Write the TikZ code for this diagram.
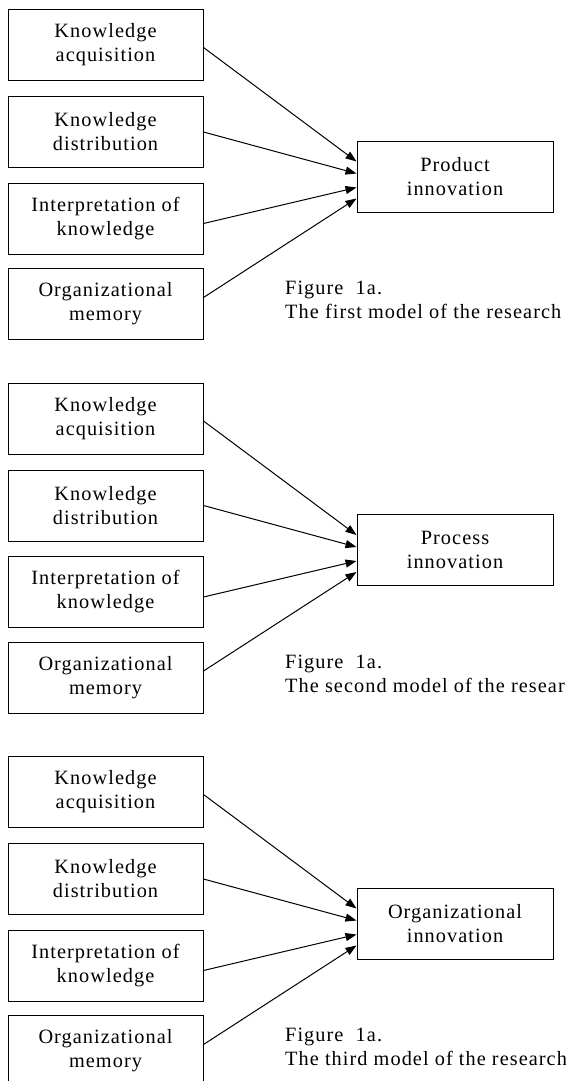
\documentclass[tikz,border=0pt]{standalone}
\usepackage{fontspec}
\setmainfont{Liberation Serif}[LetterSpace=5.2]
\usetikzlibrary{arrows.meta,calc}
\begin{document}
\begin{tikzpicture}[x=1pt,y=-1pt,
  box/.style={draw, line width=1pt, minimum width=195pt, minimum height=71pt,
    align=center, inner sep=0pt, font=\fontsize{20.3}{24}\selectfont},
  capt/.style={anchor=west, align=left, inner sep=0pt, font=\fontsize{20.3}{24}\selectfont},
  arr/.style={line width=1pt, -{Triangle[length=11pt,width=8pt]}}]
\useasboundingbox (0,0) rectangle (565,1081);
\foreach \s/\oy/\nm/\cp in {1/0/Product/first, 2/373.5/Process/second, 3/747/Organizational/third} {
  \node[box] (a\s) at (105.5,{45+\oy}) {Knowledge\\acquisition};
  \node[box] (b\s) at (105.5,{132+\oy}) {Knowledge\\distribution};
  \node[box] (c\s) at (105.5,{218.5+\oy}) {Interpretation of\\knowledge};
  \node[box] (d\s) at (105.5,{304+\oy}) {Organizational\\memory};
  \node[box, minimum width=196pt] (t\s) at (455,{176.5+\oy}) {\nm\\innovation};
  \node[capt] (f\s) at (285,{300+\oy}) {Figure\ \ 1a.\\The \cp\ model of the research};
  \draw[arr] ($(a\s.east)+(0,2.5)$) -- ($(t\s.west)+(0,-15)$);
  \draw[arr] (b\s.east) -- ($(t\s.west)+(0,-3)$);
  \draw[arr] ($(c\s.east)+(0,5)$) -- ($(t\s.west)+(0,11)$);
  \draw[arr] ($(d\s.east)+(0,-6.5)$) -- ($(t\s.west)+(0,22)$);
}
\end{tikzpicture}
\end{document}
